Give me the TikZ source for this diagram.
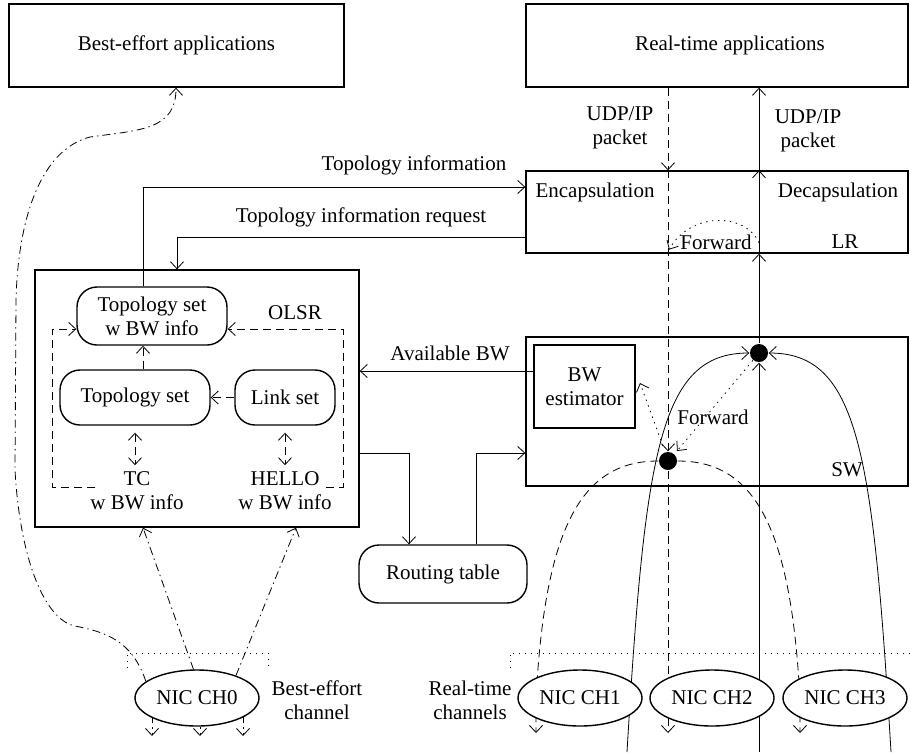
\documentclass[tikz,border=0pt]{standalone}
\usepackage{fontspec}
\setmainfont{Liberation Serif}
\usetikzlibrary{arrows.meta,shapes.geometric,calc}
\pgfdeclarelayer{background}
\pgfsetlayers{background,main}
\begin{document}
\begin{tikzpicture}[x=0.5pt,y=-0.5pt, line width=0.7pt,
  font=\fontsize{10.5pt}{12pt}\selectfont,
  >={Straight Barb[length=3.5pt,width=6.5pt]},
  box/.style={draw, inner sep=0pt, align=center},
  pill/.style={draw, rounded corners=10pt, inner sep=0pt, align=center},
  nic/.style={draw, ellipse, fill=white, minimum width=62pt, minimum height=28pt, inner sep=0pt},
  txt/.style={align=center, inner sep=0pt},
  dot/.style={circle, fill=black, minimum size=9pt, inner sep=0pt},
  dsh/.style={dash pattern=on 4pt off 2.5pt},
  dshdot/.style={dash pattern=on 4pt off 2pt on 0.7pt off 2pt},
  dots/.style={dash pattern=on 0.7pt off 2.3pt}]
\useasboundingbox (0,0) rectangle (910,752);

% application layer
\node[box, minimum width=167.5pt, minimum height=41.5pt] (beapp) at (176.5,45.5) {Best-effort applications};
\node[box, minimum width=191pt, minimum height=41.5pt] (rtapp) at (717,45.5) {};
\node[txt] (rtapptxt) at (730,45) {Real-time applications};

% LR block
\node[box, minimum width=191pt, minimum height=41pt] (lr) at (717,212) {};
\node[txt] (encap) at (595,192) {Encapsulation};
\node[txt] (decap) at (838,192) {Decapsulation};
\node[txt] (fwdlr) at (716,242) {Forward};
\node[txt] (lrlbl) at (845,242) {LR};

% SW block
\node[box, minimum width=191pt, minimum height=74.5pt] (sw) at (717,411.5) {};
\node[box, minimum width=50.5pt, minimum height=41.5pt] (bwest) at (584.5,386.5) {BW\\estimator};
\node[txt] (fwdsw) at (713,417) {Forward};
\node[txt] (swlbl) at (847,470) {SW};
\node[dot] (dot1) at (759,353) {};
\node[dot] (dot2) at (668,461) {};

% OLSR block
\node[box, minimum width=162pt, minimum height=128.5pt] (olsr) at (197,398.5) {};
\node[pill, minimum width=75pt, minimum height=29pt] (tsbw) at (152,316) {Topology set\\w BW info};
\node[pill, minimum width=75pt, minimum height=27.5pt] (ts) at (135,397.5) {Topology set};
\node[pill, minimum width=50pt, minimum height=27.5pt] (ls) at (285,397.5) {Link set};
\node[txt] (olsrlbl) at (295,313) {OLSR};
\node[txt] (tc) at (137,491) {TC\\w BW info};
\node[txt] (hello) at (285,491) {HELLO\\w BW info};
\node[pill, minimum width=84pt, minimum height=29pt] (rt) at (443,574) {Routing table};

% connector labels
\node[txt] (topinfo) at (414,165) {Topology information};
\node[txt] (topreq) at (361,217) {Topology information request};
\node[txt] (availbw) at (450,353) {Available BW};
\node[txt] (udpdown) at (620,128) {UDP/IP\\packet};
\node[txt] (udpup) at (808,131) {UDP/IP\\packet};

% interfaces
\node[nic] (nic0) at (197,698) {NIC CH0};
\node[nic] (nic1) at (580,698) {NIC CH1};
\node[nic] (nic2) at (712,698) {NIC CH2};
\node[nic] (nic3) at (845,698) {NIC CH3};
\node[txt] (bech) at (317,700) {Best-effort\\channel};
\node[txt] (rtch) at (470,700) {Real-time\\channels};

\begin{pgfonlayer}{background}
% OLSR internals
\draw[dsh,->] (95,487) -- (52,487) |- (tsbw.west |- 0,329);
\draw[dsh,->] (326,487) -- (343,487) |- (tsbw.east |- 0,329);
\draw[dsh,->] (ts.north -| 143,0) -- (tsbw.south -| 143,0);
\draw[dsh,->] (ls.west) -- (ts.east);
\draw[dsh,<->, shorten <=3.5pt, shorten >=3pt] (ts.south) -- (tc.north -| ts.south);
\draw[dsh,<->, shorten <=3.5pt, shorten >=3pt] (ls.south) -- (hello.north -| ls.south);

% control plane
\draw[->] (tsbw.north -| 143,0) |- (lr.west |- 0,187);
\draw[->] (lr.west |- 0,237) -| (olsr.north -| 177,0);
\draw[->] (bwest.west |- 0,371) -- (olsr.east |- 0,371);
\draw[->] (olsr.east |- 0,453) -| (rt.north -| 409,0);
\draw[->] (rt.north -| 476,0) |- (sw.west |- 0,453);

% best-effort channel
\draw[dshdot,->] (nic0.97) -- (olsr.south -| 143,0);
\draw[dshdot,->] (nic0.30) -- (olsr.south -| 296,0);
\draw[dshdot,->] (nic0.162) .. controls (132,640) and (105,632) .. (75,626)
  .. controls (45,620) and (20,560) .. (15,470) -- (16,300)
  .. controls (18,220) and (40,150) .. (90,137)
  .. controls (140,130) and (176,130) .. (beapp.south -| 176,0);
\draw[dshdot,->] (nic0 -| 152,0) -- ++(0,38);
\draw[dshdot,->] (nic0 -| 200,0) -- ++(0,38);
\draw[dshdot,->] (nic0 -| 243,0) -- ++(0,38);
\draw[dots] (127,668) -- (127,653) -- (268,653) -- (268,668);

% real-time downstream
\draw[dsh,->] (rtapp.south -| dot2) -- (lr.north -| dot2);
\draw[dsh,->] (lr.north -| dot2) -- (dot2.north);
\draw[dsh,->] (dot2) -- (dot2 |- 0,733);
\draw[dsh,->] (dot2) .. controls (585,461) and (545,520) .. (536,700) -- (536,733);
\draw[dsh,->] (dot2) .. controls (751,461) and (791,520) .. (800,700) -- (800,733);

% real-time upstream
\draw[->] (dot1 |- 0,752) -- (dot1.south);
\draw[->] (dot1.north) -- (lr.south -| dot1);
\draw[->] (lr.south -| dot1) -- (lr.north -| dot1);
\draw[->] (lr.north -| dot1) -- (rtapp.south -| dot1);
\draw[->] (627,752) .. controls (645,450) and (660,353) .. (dot1.west);
\draw[->] (891,752) .. controls (873,450) and (858,353) .. (dot1.east);

% forwarding paths
\draw[dots,->] ($(lr.south -| dot1)+(0,-11)$) .. controls (745,212) and (690,212) .. ($(lr.south -| dot2)+(1,-4)$);
\draw[dots,->] (dot1) -- (677,451);
\draw[dots,->] (663,446) -- (640,383);
\draw[dots] (510,668) -- (510,653) -- (910,653);
\end{pgfonlayer}
\end{tikzpicture}
\end{document}
